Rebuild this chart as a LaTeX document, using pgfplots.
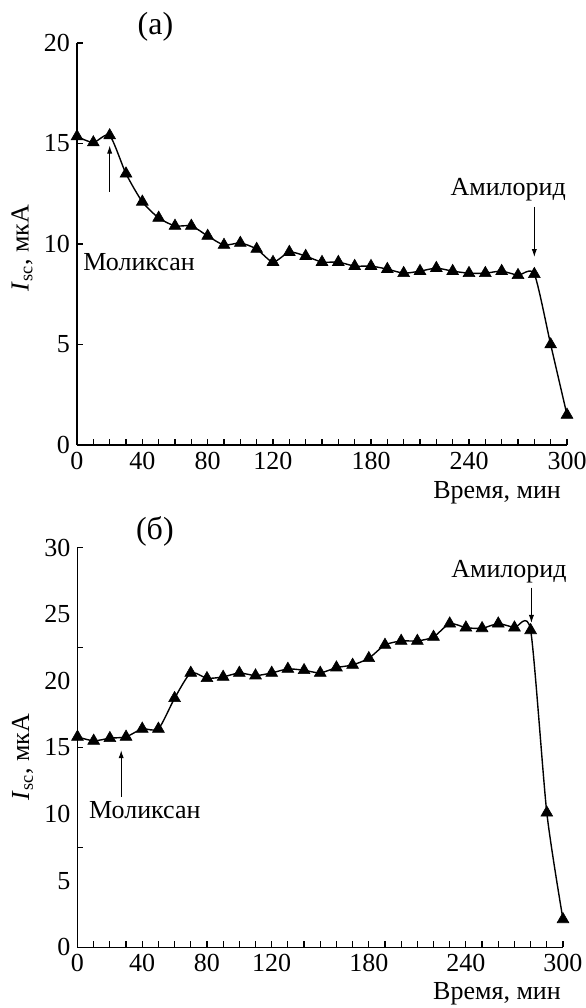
\documentclass[border=0pt]{standalone}
\usepackage{fontspec}
\setmainfont{Liberation Serif}
\usepackage{pgfplots}
\pgfplotsset{compat=1.18}
\usetikzlibrary{arrows.meta}

\newcommand{\fs}{\fontsize{13}{15}\selectfont}
\newcommand{\fp}{\fontsize{16}{18}\selectfont}

\tikzset{pointer/.style={line width=0.5pt, -{Latex[length=4pt,width=2.6pt]}}}

\pgfplotsset{
  panel/.style={
    scale only axis,
    axis lines=left,
    axis line style={-, line width=0.7pt},
    tick align=inside,
    major tick length=3pt,
    minor tick length=3pt,
    tick style={line width=0.6pt, black},
    xmin=0, xmax=300,
    xtick={0,40,80,120,180,240,300},
    minor xtick={10,20,...,290},
    clip=false,
    /pgf/number format/assume math mode=true,
    tick label style={font=\fs},
    label style={font=\fs},
    xlabel={Время, мин},
    ylabel={\textit{I}\textsubscript{sc}, мкА},
  },
  curve/.style={black, line width=0.7pt, smooth, tension=0.4, mark=triangle*,
    mark size=3.4pt, mark options={solid, line width=0.3pt}},
}

\pgfplotstableread{
t I
0 15.35
10 15.05
20 15.4
30 13.5
40 12.1
50 11.3
60 10.9
70 10.9
80 10.4
90 9.95
100 10.05
110 9.75
120 9.1
130 9.6
140 9.4
150 9.1
160 9.1
170 8.9
180 8.9
190 8.75
200 8.55
210 8.65
220 8.8
230 8.65
240 8.55
250 8.55
260 8.65
270 8.45
280 8.5
290 5.0
300 1.5
}\dataA

\pgfplotstableread{
t I
0 15.8
10 15.5
20 15.7
30 15.8
40 16.4
50 16.4
60 18.7
70 20.6
80 20.2
90 20.3
100 20.6
110 20.4
120 20.6
130 20.9
140 20.8
150 20.6
160 21.0
170 21.2
180 21.7
190 22.7
200 23.0
210 23.0
220 23.3
230 24.3
240 24.0
250 23.95
260 24.3
270 24.0
280 23.8
290 10.1
300 2.1
}\dataB

\begin{document}
\begin{tikzpicture}
\useasboundingbox (0,0) rectangle (292.5pt,-504pt);

% panel (a)
\begin{axis}[panel,
  at={(38.5pt,-222.5pt)}, anchor=south west,
  width=245pt, height=201pt,
  ymin=0, ymax=20,
  ytick={0,5,...,20},
  xlabel style={at={(axis description cs:1.002,-0.119)}, anchor=east},
  ylabel style={at={(axis description cs:-0.112,0.49)}, anchor=center},
]
\addplot[curve] table[x=t, y=I] {\dataA};
\node[font=\fp] at (axis cs:48,20.8) {(а)};
\node[font=\fs] at (axis cs:38,9.1) {Моликсан};
\draw[pointer] (axis cs:20,12.6) -- (axis cs:20,14.9);
\node[font=\fs] at (axis cs:264,12.7) {Амилорид};
\draw[pointer] (axis cs:280,11.85) -- (axis cs:280,9.35);
\end{axis}

% panel (b)
\begin{axis}[panel,
  at={(38.75pt,-473.65pt)}, anchor=south west,
  width=242.75pt, height=199.8pt,
  ymin=0, ymax=30,
  ytick={0,7.5,15,22.5,30},
  yticklabels={,,,,},
  extra y ticks={0,5,10,15,20,25,30},
  extra y tick labels={0,5,10,15,20,25,30},
  extra y tick style={major tick length=0pt},
  xlabel style={at={(axis description cs:1.01,-0.117)}, anchor=east},
  ylabel style={at={(axis description cs:-0.113,0.476)}, anchor=center},
]
\addplot[curve] table[x=t, y=I] {\dataB};
\node[font=\fp] at (axis cs:47.8,31.25) {(б)};
\node[font=\fs] at (axis cs:41.6,10.3) {Моликсан};
\draw[pointer] (axis cs:27,11.3) -- (axis cs:27,14.8);
\node[font=\fs] at (axis cs:266.6,28.2) {Амилорид};
\draw[pointer] (axis cs:280.5,27.0) -- (axis cs:280.5,24.35);
\end{axis}
\end{tikzpicture}
\end{document}
